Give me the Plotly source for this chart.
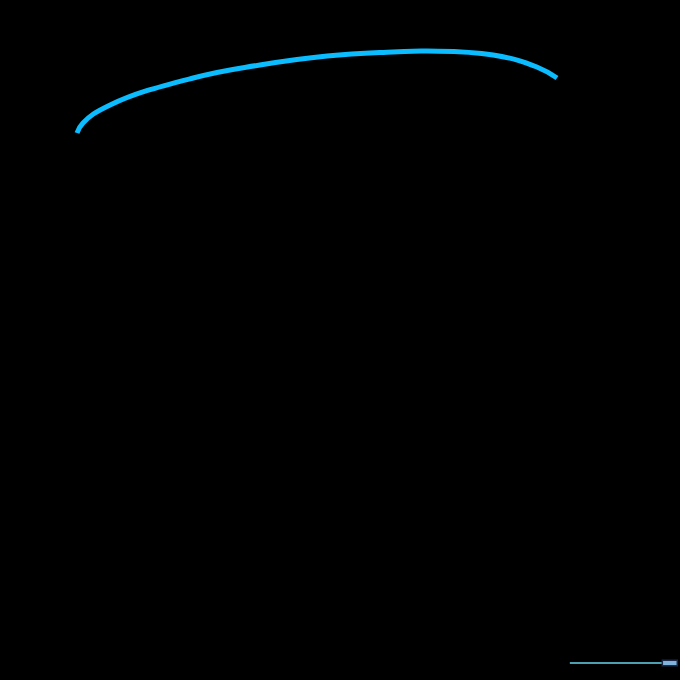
import plotly.graph_objects as go

# curve samples (arbitrary units)
x_vals = [0.0, 0.125, 0.69, 2.42, 3.81, 5.21, 6.58, 7.29, 8.67, 9.58, 10.0]
y_vals = [54.7, 55.7, 57.5, 60.2, 61.5, 62.4, 62.8, 62.9, 62.5, 61.3, 60.2]

fig = go.Figure()
fig.add_trace(
  go.Scatter(
    x=x_vals,
    y=y_vals,
    mode="lines",
    line=dict(color="#0bbcff", width=5, shape="spline", smoothing=1.3),
    hoverinfo="skip",
  )
)

# little slider-looking thing at the bottom right
fig.add_shape(type="line", xref="paper", yref="paper", x0=0.838, x1=0.975, y0=0.025, y1=0.025,
              line=dict(color="#4d9fb2", width=2))
fig.add_shape(type="rect", xref="paper", yref="paper", x0=0.974, x1=0.996, y0=0.021, y1=0.029,
              fillcolor="#7fb3dc", line=dict(color="#1b2a4a", width=1.5))

fig.update_layout(
  width=680,
  height=680,
  margin=dict(l=0, r=0, t=0, b=0),
  showlegend=False,
  plot_bgcolor="black",
  paper_bgcolor="black",
  xaxis=dict(range=[-1.604, 12.562], visible=False, showgrid=False, zeroline=False),
  yaxis=dict(range=[0, 68], visible=False, showgrid=False, zeroline=False),
)

fig.write_html(
  "out.html",
  config={"displayModeBar": False},
  post_script="document.body.style.margin='0';document.body.style.background='black';",
)
